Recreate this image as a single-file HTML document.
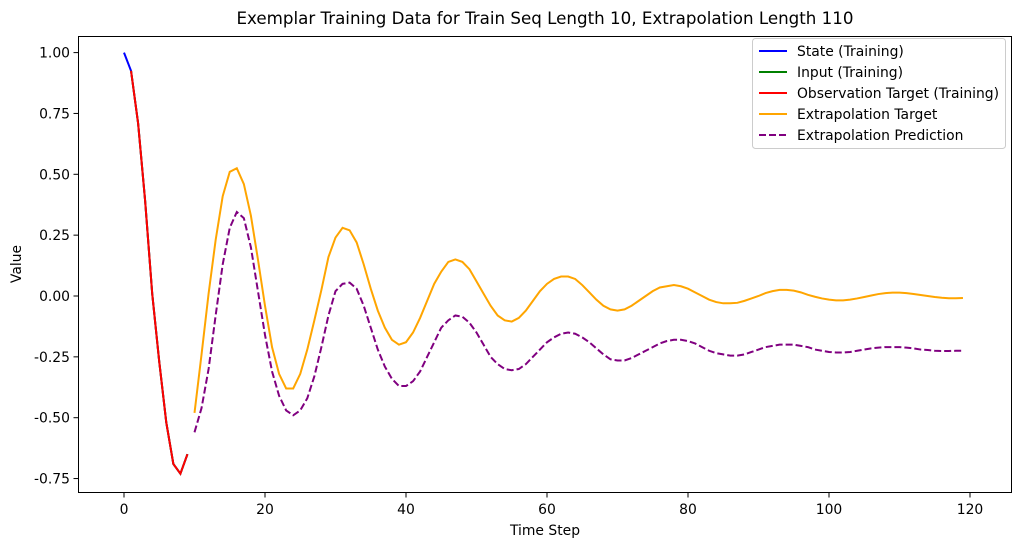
<!DOCTYPE html>
<html><head><meta charset="utf-8"><style>
body{margin:0;background:#fff;font-family:"Liberation Sans","DejaVu Sans",sans-serif;}
svg text{font-family:"DejaVu Sans","Liberation Sans",sans-serif;}
</style></head><body>
<svg id="chart" width="1021" height="547" xmlns="http://www.w3.org/2000/svg">
<rect width="1021" height="547" fill="#fff"/>
<text x="545" y="24" font-size="16.7" text-anchor="middle">Exemplar Training Data for Train Seq Length 10, Extrapolation Length 110</text>
<text x="545" y="535" font-size="13.9" text-anchor="middle">Time Step</text>
<text transform="translate(21,264) rotate(-90)" font-size="13.9" text-anchor="middle">Value</text>
<g id="ticks"></g>
<g id="series"></g>
<rect x="78.5" y="36.5" width="933" height="456" fill="none" stroke="#000" stroke-width="1"/>
<g>
<rect x="752.5" y="38.5" width="253" height="110" rx="3" fill="#fff" stroke="#ccc"/>
<g font-size="13.9">
<line x1="759" y1="51" x2="787" y2="51" stroke="blue" stroke-width="2"/><text x="797" y="56">State (Training)</text>
<line x1="759" y1="72" x2="787" y2="72" stroke="green" stroke-width="2"/><text x="797" y="77">Input (Training)</text>
<line x1="759" y1="93" x2="787" y2="93" stroke="red" stroke-width="2"/><text x="797" y="98">Observation Target (Training)</text>
<line x1="759" y1="114" x2="787" y2="114" stroke="orange" stroke-width="2"/><text x="797" y="119">Extrapolation Target</text>
<line x1="759" y1="135" x2="787" y2="135" stroke="purple" stroke-width="2" stroke-dasharray="7,3"/><text x="797" y="140">Extrapolation Prediction</text>
</g></g>
</svg>
<script>
const xTicks=[0,20,40,60,80,100,120];
const yTicks=[1.00,0.75,0.50,0.25,0.00,-0.25,-0.50,-0.75];
const trainValues=[1.00,0.925,0.71,0.39,0.01,-0.27,-0.52,-0.69,-0.73,-0.65];
const targetValues=[-0.48,-0.24,0.01,0.23,0.41,0.51,0.525,0.46,0.33,0.15,-0.04,-0.21,-0.32,-0.38,-0.38,-0.32,-0.22,-0.10,0.025,0.16,0.24,0.28,0.27,0.22,0.13,0.03,-0.06,-0.13,-0.18,-0.20,-0.19,-0.15,-0.09,-0.02,0.05,0.10,0.14,0.15,0.14,0.11,0.06,0.01,-0.04,-0.08,-0.10,-0.105,-0.09,-0.06,-0.02,0.02,0.05,0.07,0.08,0.08,0.07,0.045,0.015,-0.015,-0.04,-0.055,-0.06,-0.055,-0.04,-0.02,0.00,0.02,0.035,0.04,0.045,0.04,0.03,0.015,0.00,-0.015,-0.025,-0.03,-0.03,-0.028,-0.02,-0.01,0.00,0.012,0.02,0.025,0.025,0.022,0.015,0.005,-0.003,-0.01,-0.015,-0.018,-0.018,-0.015,-0.01,-0.004,0.002,0.008,0.012,0.014,0.014,0.012,0.008,0.004,0.00,-0.004,-0.007,-0.009,-0.009,-0.008];
const predValues=[-0.56,-0.46,-0.30,-0.08,0.13,0.28,0.345,0.32,0.20,0.02,-0.16,-0.31,-0.41,-0.47,-0.49,-0.47,-0.42,-0.33,-0.21,-0.08,0.02,0.05,0.055,0.03,-0.04,-0.13,-0.22,-0.29,-0.34,-0.37,-0.37,-0.35,-0.31,-0.25,-0.19,-0.13,-0.10,-0.08,-0.085,-0.11,-0.15,-0.20,-0.25,-0.28,-0.30,-0.305,-0.30,-0.28,-0.25,-0.22,-0.19,-0.17,-0.155,-0.15,-0.155,-0.17,-0.19,-0.215,-0.24,-0.26,-0.265,-0.265,-0.255,-0.24,-0.225,-0.21,-0.195,-0.185,-0.18,-0.18,-0.185,-0.195,-0.21,-0.225,-0.235,-0.24,-0.245,-0.245,-0.24,-0.23,-0.22,-0.21,-0.205,-0.20,-0.20,-0.20,-0.205,-0.21,-0.22,-0.225,-0.23,-0.232,-0.232,-0.23,-0.225,-0.22,-0.215,-0.212,-0.21,-0.21,-0.21,-0.212,-0.215,-0.22,-0.222,-0.225,-0.226,-0.226,-0.225,-0.225];
const trainStart=0, extrapStart=10;
const NS="http://www.w3.org/2000/svg";
function xs(v){return 124+v*7.05;}
function ys(v){return 296-v*243.4;}
const tg=document.getElementById('ticks');
xTicks.forEach(t=>{
  const l=document.createElementNS(NS,'line');
  
  
  l.setAttribute('x1',xs(t));l.setAttribute('x2',xs(t));l.setAttribute('y1',493);l.setAttribute('y2',497.5);l.setAttribute('stroke','#000');
  tg.appendChild(l);
  const tx=document.createElementNS(NS,'text');
  
  
  tx.setAttribute('x',xs(t));tx.setAttribute('y',514);tx.setAttribute('font-size','13.9');tx.setAttribute('text-anchor','middle');
  tx.textContent=t;tg.appendChild(tx);
});
yTicks.forEach(t=>{
  const l=document.createElementNS(NS,'line');
  
  
  l.setAttribute('x1',73.5);l.setAttribute('x2',78);l.setAttribute('y1',ys(t));l.setAttribute('y2',ys(t));l.setAttribute('stroke','#000');
  tg.appendChild(l);
  const tx=document.createElementNS(NS,'text');
  
  
  tx.setAttribute('x',70);tx.setAttribute('y',ys(t)+5);tx.setAttribute('font-size','13.9');tx.setAttribute('text-anchor','end');
  tx.textContent=t.toFixed(2);tg.appendChild(tx);
});
const sg=document.getElementById('series');
function addLine(vals,start,color,name,dash){
  const p=document.createElementNS(NS,'polyline');
  
  
  p.setAttribute('points',vals.map((v,i)=>xs(start+i)+','+ys(v)).join(' '));
  p.setAttribute('fill','none');p.setAttribute('stroke',color);p.setAttribute('stroke-width','2');
  if(dash)p.setAttribute('stroke-dasharray','7,3');
  sg.appendChild(p);
}
addLine(trainValues,trainStart,'blue','state-training-line');
addLine(trainValues.slice(1),trainStart+1,'green','input-training-line');
addLine(trainValues.slice(1),trainStart+1,'red','observation-target-line');
addLine(targetValues,extrapStart,'orange','extrapolation-target-line');
addLine(predValues,extrapStart,'purple','extrapolation-prediction-line',true);
</script>
</body></html>
